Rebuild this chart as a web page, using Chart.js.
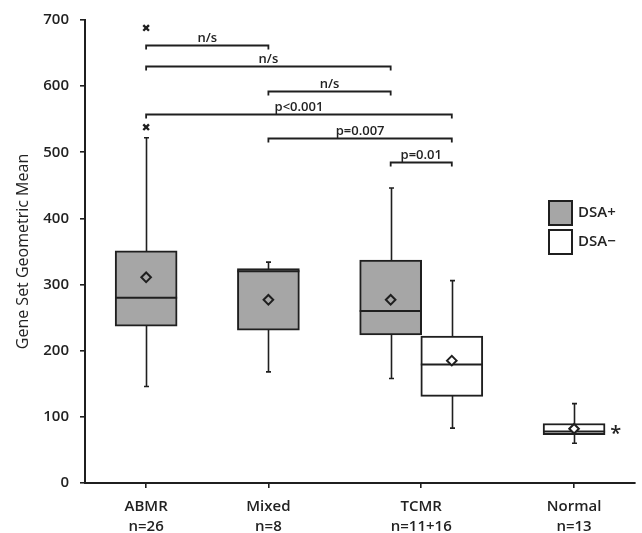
<!DOCTYPE html>
<html>
<head>
<meta charset="utf-8">
<script src="https://cdn.jsdelivr.net/npm/chart.js@4.4.1/dist/chart.umd.min.js"></script>
<style>
  html, body { margin: 0; padding: 0; background: #ffffff; }
  #wrap { width: 642px; height: 533px; position: relative; }
</style>
</head>
<body>
<div id="wrap"><canvas id="c" width="642" height="533"></canvas></div>
<script>
// ---- data ----
const tickPositions = [1, 2, 3.25, 4.5];
const tickLabels = [["ABMR", "n=26"], ["Mixed", "n=8"], ["TCMR", "n=11+16"], ["Normal", "n=13"]];

const boxX        = [1,    2,    3,    3.5,  4.5];
const boxGroup    = ["DSA+", "DSA+", "DSA+", "DSA\u2212", "DSA\u2212"];
const whiskerLow  = [146,  168,  158,  83,   60];
const q1          = [237,  231,  224,  131,  73];
const median      = [280,  320,  260,  179,  78];
const q3          = [351,  324,  337,  222,  90];
const whiskerHigh = [522,  334,  446,  306,  120];
const means       = [311,  277,  277,  185,  82];

const outlierX = [1, 1];
const outlierY = [538, 688];

const bracketFrom   = [1, 1, 2, 1, 2, 3];
const bracketTo     = [2, 3, 3, 3.5, 3.5, 3.5];
const bracketY      = [662, 630, 592, 558, 522, 486];
const bracketLabels = ["n/s", "n/s", "n/s", "p<0.001", "p=0.007", "p=0.01"];

const starX = 4.84, starY = 80, starText = "*";

const seriesNames = ["DSA+", "DSA\u2212"];
const seriesFill  = ["#a6a6a6", "#ffffff"];
const lineColor = "#1f1f1f";
const textColor = "#222222";
const FONT = "'Open Sans', 'DejaVu Sans', sans-serif";

// ---- build datasets ----
function boxesFor(name) {
  const out = [];
  boxX.forEach((x, i) => { if (boxGroup[i] === name) out.push({ x: x, y: [q1[i], q3[i]], i: i }); });
  return out;
}
const meanPoints = boxX.map((x, i) => ({ x: x, y: means[i] }));
const meanFill = boxX.map((x, i) => seriesFill[seriesNames.indexOf(boxGroup[i])]);
const outlierPoints = outlierX.map((x, i) => ({ x: x, y: outlierY[i] }));

const boxPlugin = {
  id: 'boxParts',
  beforeDatasetsDraw(chart) {
    const ctx = chart.ctx, xs = chart.scales.x, ys = chart.scales.y;
    ctx.save();
    ctx.strokeStyle = lineColor;
    ctx.lineWidth = 1.6;
    boxX.forEach((x, i) => {
      const px = Math.round(xs.getPixelForValue(x)) + 0.5;
      const yl = ys.getPixelForValue(whiskerLow[i]);
      const yh = ys.getPixelForValue(whiskerHigh[i]);
      ctx.beginPath();
      ctx.moveTo(px, yl); ctx.lineTo(px, yh);
      ctx.moveTo(px - 2.5, yl); ctx.lineTo(px + 2.5, yl);
      ctx.moveTo(px - 2.5, yh); ctx.lineTo(px + 2.5, yh);
      ctx.stroke();
    });
    ctx.restore();
  },
  afterDatasetDraw(chart, args) {
    const ds = chart.data.datasets[args.index];
    if (ds.type !== 'bar') return;
    const ctx = chart.ctx, ys = chart.scales.y;
    const meta = args.meta;
    ctx.save();
    ctx.strokeStyle = lineColor;
    ctx.lineWidth = 2;
    ds.data.forEach((d, j) => {
      const el = meta.data[j];
      const half = el.width / 2;
      const py = ys.getPixelForValue(median[d.i]);
      ctx.beginPath();
      ctx.moveTo(el.x - half, py); ctx.lineTo(el.x + half, py);
      ctx.stroke();
    });
    ctx.restore();
  },
  afterDraw(chart) {
    const ctx = chart.ctx, xs = chart.scales.x, ys = chart.scales.y;
    ctx.save();
    // significance brackets
    ctx.strokeStyle = lineColor;
    ctx.lineWidth = 1.8;
    ctx.fillStyle = textColor;
    ctx.font = "600 13px " + FONT;
    ctx.textAlign = 'center';
    ctx.textBaseline = 'bottom';
    bracketY.forEach((v, i) => {
      const x1 = xs.getPixelForValue(bracketFrom[i]);
      const x2 = xs.getPixelForValue(bracketTo[i]);
      const py = Math.round(ys.getPixelForValue(v)) + 0.5;
      ctx.beginPath();
      ctx.moveTo(x1, py + 4); ctx.lineTo(x1, py); ctx.lineTo(x2, py); ctx.lineTo(x2, py + 4);
      ctx.stroke();
      ctx.fillText(bracketLabels[i], (x1 + x2) / 2, py - 1);
    });
    // star annotation
    ctx.font = "600 20px " + FONT;
    ctx.textBaseline = 'middle';
    ctx.fillText(starText, xs.getPixelForValue(starX), ys.getPixelForValue(starY) + 4);
    // legend
    const lx = 549, ly0 = 201;
    ctx.font = "600 15px " + FONT;
    ctx.textAlign = 'left';
    seriesNames.forEach((name, k) => {
      const ly = ly0 + k * 29;
      ctx.fillStyle = seriesFill[k];
      ctx.fillRect(lx, ly, 23, 24);
      ctx.strokeStyle = lineColor;
      ctx.lineWidth = 2;
      ctx.strokeRect(lx, ly, 23, 24);
      ctx.fillStyle = textColor;
      ctx.fillText(name, lx + 29, ly + 12);
    });
    ctx.restore();
  }
};

const chart = new Chart(document.getElementById('c'), {
  data: {
    datasets: [
      {
        type: 'scatter', label: 'mean', data: meanPoints,
        pointStyle: 'rectRot', pointRadius: 4.8, pointBorderWidth: 2,
        pointBorderColor: lineColor, pointBackgroundColor: meanFill
      },
      {
        type: 'scatter', label: 'outliers', data: outlierPoints,
        pointStyle: 'crossRot', pointRadius: 4, pointBorderWidth: 2.4,
        pointBorderColor: lineColor
      },
      {
        type: 'bar', label: seriesNames[0], data: boxesFor(seriesNames[0]),
        backgroundColor: seriesFill[0], borderColor: lineColor, borderWidth: 2,
        borderSkipped: false, barThickness: 62, grouped: false
      },
      {
        type: 'bar', label: seriesNames[1], data: boxesFor(seriesNames[1]),
        backgroundColor: seriesFill[1], borderColor: lineColor, borderWidth: 2,
        borderSkipped: false, barThickness: 62, grouped: false
      }
    ]
  },
  options: {
    responsive: false,
    animation: false,
    layout: { padding: { top: 16, right: 1, left: 0, bottom: 0 } },
    plugins: { legend: { display: false }, tooltip: { enabled: false } },
    scales: {
      x: {
        type: 'linear', min: 0.5, max: 5.0, offset: false,
        afterBuildTicks(scale) { scale.ticks = tickPositions.map(v => ({ value: v })); },
        afterFit(scale) { scale.height = 50; },
        grid: { display: true, offset: false, drawOnChartArea: false, drawTicks: true, tickLength: 5, color: lineColor, lineWidth: 1.6 },
        border: { display: true, color: lineColor, width: 2 },
        ticks: {
          autoSkip: false, maxRotation: 0, padding: 9, color: textColor,
          font: { family: FONT, size: 15, weight: '600', lineHeight: 1.3 },
          callback(value, index) { return tickLabels[index]; }
        }
      },
      y: {
        type: 'linear', min: 0, max: 700,
        afterFit(scale) { scale.width = 85; },
        grid: { display: true, drawOnChartArea: false, drawTicks: true, tickLength: 5, color: lineColor, lineWidth: 1.6 },
        border: { display: true, color: lineColor, width: 2 },
        ticks: { stepSize: 100, padding: 11, color: textColor, font: { family: FONT, size: 15, weight: '600' } },
        title: {
          display: true, text: 'Gene Set Geometric Mean', color: textColor,
          font: { family: FONT, size: 16, weight: '400' }, padding: { top: 14, bottom: 0 }
        }
      }
    }
  },
  plugins: [boxPlugin]
});
</script>
</body>
</html>
